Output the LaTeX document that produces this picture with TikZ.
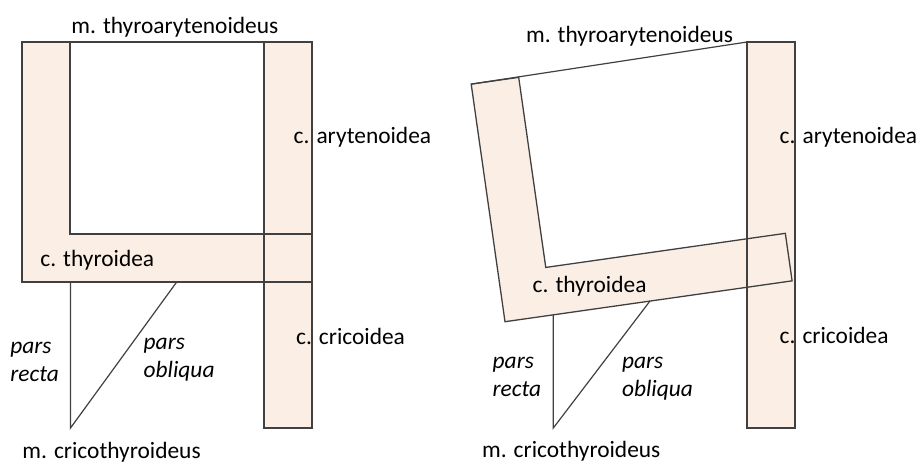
\documentclass[tikz,border=0pt]{standalone}
\usepackage{fontspec}
\setmainfont{Carlito}
\definecolor{cartilage}{HTML}{FBEFE5}
\definecolor{outline}{HTML}{404040}
\begin{document}
\begin{tikzpicture}[x=0.5pt,y=-0.5pt,
  cartfill/.style={fill=cartilage,draw=none},
  cartline/.style={draw=outline,line width=0.65pt,line join=miter},
  muscle/.style={draw=outline,line width=0.6pt},
  lbl/.style={anchor=base west,inner sep=0pt,font=\fontsize{11.7}{14}\selectfont},
  ilbl/.style={anchor=base west,inner sep=0pt,font=\fontsize{11.7}{14}\selectfont\itshape}]
\useasboundingbox (0,0) rectangle (916,463);

% ---------- left: resting position ----------
% thyroid cartilage (L shape) and arytenoid/cricoid bar
\def\thyroidL{(0,-240) -- (48,-240) -- (48,-48) -- (290,-48) -- (290,0) -- (0,0) -- cycle}
\begin{scope}[shift={(22,282)}]
  \path[cartfill] \thyroidL;
  \coordinate (lTopL) at (0,-240);
\end{scope}
\path[cartfill] (264,42) rectangle (312,428);
\begin{scope}[shift={(22,282)}]
  \path[cartline] \thyroidL;
\end{scope}
\draw[cartline] (264,42) rectangle (312,428);
\coordinate (lAryTop) at (264,42);
% m. thyroarytenoideus
\draw[muscle] (lTopL) -- (lAryTop);
% m. cricothyroideus
\coordinate (lRectaTop) at (70.5,282);
\coordinate (lCT) at (70.5,428);
\coordinate (lObliquaTop) at (176.7,282);
\draw[muscle] (lRectaTop) -- (lCT) -- (lObliquaTop);

\node[lbl] (lTA) at (71,33.3) {m. thyroarytenoideus};
\node[lbl] (lAry) at (293.3,143.3) {c. arytenoidea};
\node[lbl] (lThy) at (40,266.5) {c. thyroidea};
\node[lbl] (lCri) at (295.7,344) {c. cricoidea};
\node[ilbl] (lPR1) at (10,353) {pars};
\node[ilbl] (lPR2) at (10,381.7) {recta};
\node[ilbl] (lPO1) at (143.3,349.3) {pars};
\node[ilbl] (lPO2) at (143.3,377.3) {obliqua};
\node[lbl] (lCTl) at (22,458.3) {m. cricothyroideus};

% ---------- right: thyroid tilted forward ----------
\begin{scope}[shift={(505,321.7)},rotate=8.1]
  \path[cartfill] \thyroidL;
  \coordinate (rTopL) at (0,-240);
\end{scope}
\path[cartfill] (747,42) rectangle (795,428);
\begin{scope}[shift={(505,321.7)},rotate=8.1]
  \path[cartline] \thyroidL;
\end{scope}
\draw[cartline] (747,42) rectangle (795,428);
\coordinate (rAryTop) at (747,42);
% m. thyroarytenoideus
\draw[muscle] (rTopL) -- (rAryTop);
% m. cricothyroideus
\coordinate (rRectaTop) at (553.3,314.8);
\coordinate (rCT) at (553.3,428);
\coordinate (rObliquaTop) at (650,301);
\draw[muscle] (rRectaTop) -- (rCT) -- (rObliquaTop);

\node[lbl] (rTA) at (525.7,42) {m. thyroarytenoideus};
\node[lbl] (rAry) at (779.3,143.3) {c. arytenoidea};
\node[lbl] (rThy) at (532.3,292.7) {c. thyroidea};
\node[lbl] (rCri) at (779.3,343.3) {c. cricoidea};
\node[ilbl] (rPR1) at (492.3,368.3) {pars};
\node[ilbl] (rPR2) at (492.3,396.7) {recta};
\node[ilbl] (rPO1) at (621.7,368.3) {pars};
\node[ilbl] (rPO2) at (621.7,396.7) {obliqua};
\node[lbl] (rCTl) at (481.7,457.7) {m. cricothyroideus};
\end{tikzpicture}
\end{document}
